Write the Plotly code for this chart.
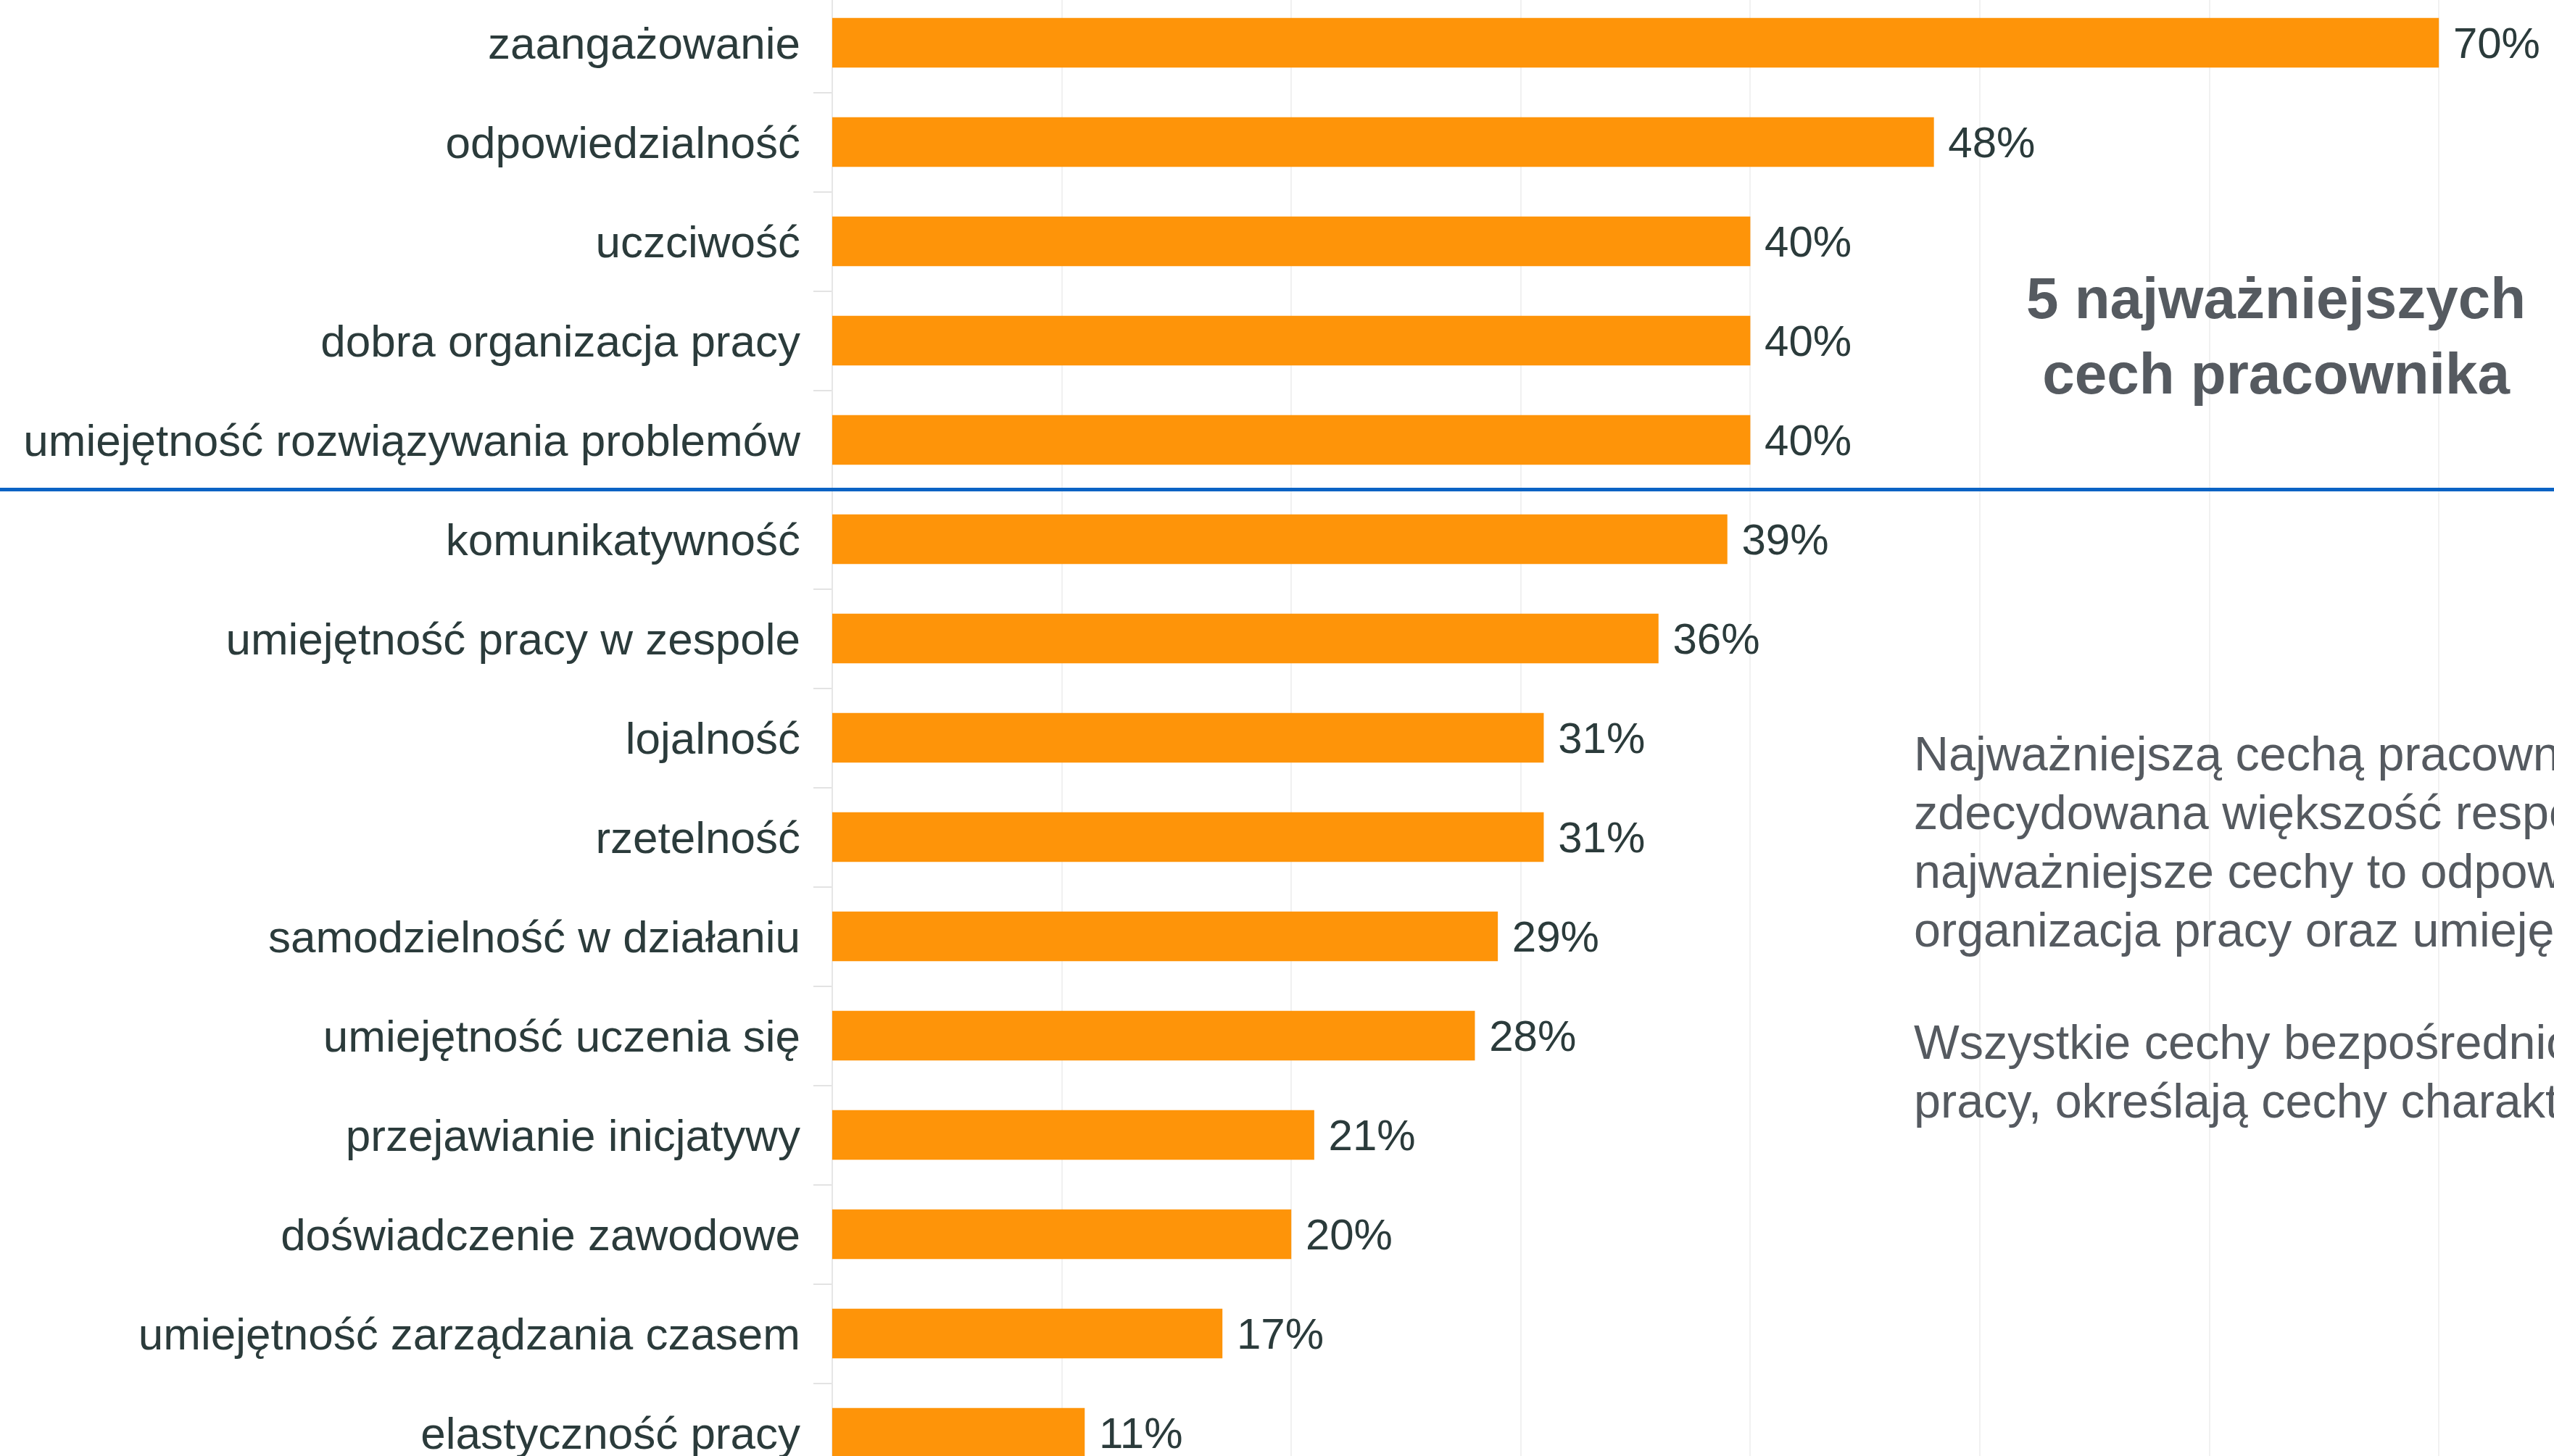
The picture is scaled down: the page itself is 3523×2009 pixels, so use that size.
import plotly.graph_objects as go

categories = [
    "zaangażowanie",
    "odpowiedzialność",
    "uczciwość",
    "dobra organizacja pracy",
    "umiejętność rozwiązywania problemów",
    "komunikatywność",
    "umiejętność pracy w zespole",
    "lojalność",
    "rzetelność",
    "samodzielność w działaniu",
    "umiejętność uczenia się",
    "przejawianie inicjatywy",
    "doświadczenie zawodowe",
    "umiejętność zarządzania czasem",
    "elastyczność pracy",
]
values = [70, 48, 40, 40, 40, 39, 36, 31, 31, 29, 28, 21, 20, 17, 11]
top_n = 5

title_text = "5 najważniejszych<br>cech pracownika"
body_par1 = [
    "Najważniejszą cechą pracownika",
    "zdecydowana większość respondentów",
    "najważniejsze cechy to odpowiedzialność",
    "organizacja pracy oraz umiejętność",
]
body_par2 = [
    "Wszystkie cechy bezpośrednio",
    "pracy, określają cechy charakteru",
]

W, H = 3523, 2009
ML = 1148
plot_w = W - ML
px_per_unit = 31.66
row_px = 137.0
first_row_px = 59.0

BAR = "#FE9409"
LABEL = "#2B3B3B"
GREY_TXT = "#555A60"
FONT = "Liberation Sans, Arial, sans-serif"

fig = go.Figure()
fig.add_trace(go.Bar(
    y=categories,
    x=values,
    orientation="h",
    marker=dict(color=BAR, line=dict(width=0)),
    texttemplate="\u00a0%{x}%",
    textposition="outside",
    textfont=dict(family=FONT, size=60, color=LABEL),
    constraintext="none",
    cliponaxis=False,
    hoverinfo="skip",
))

n = len(categories)
fig.update_layout(
    width=W, height=H,
    margin=dict(l=ML, r=0, t=0, b=0, pad=0),
    paper_bgcolor="white", plot_bgcolor="white",
    showlegend=False,
    bargap=0.5,
    font=dict(family=FONT, color=LABEL),
    xaxis=dict(
        range=[0, plot_w / px_per_unit], dtick=10, showticklabels=False,
        showgrid=True, gridcolor="#F1F1F1", gridwidth=2,
        zeroline=True, zerolinecolor="#E6E6E6", zerolinewidth=2,
        showline=False, fixedrange=True,
    ),
    yaxis=dict(
        type="category",
        range=[(H - first_row_px) / row_px, -first_row_px / row_px],
        tickson="boundaries",
        ticks="outside", ticklen=25, tickwidth=2, tickcolor="#E3E3E3",
        showgrid=False, zeroline=False, showline=False,
        tickfont=dict(family=FONT, size=62, color=LABEL),
        ticklabelstandoff=43,
        automargin=False,
    ),
)

# separator between the top group and the rest
fig.add_shape(
    type="line", xref="paper", yref="y",
    x0=-ML / plot_w, x1=1, y0=top_n - 0.5, y1=top_n - 0.5,
    line=dict(color="#0B63C4", width=5), layer="above",
)

fig.add_annotation(
    xref="paper", yref="paper",
    x=(3139 - ML) / plot_w, y=1 - 464 / H,
    xanchor="center", yanchor="middle",
    text="<b>" + title_text + "</b>", showarrow=False, align="center",
    font=dict(family=FONT, size=80, color=GREY_TXT),
)

line_step = 81.0
para_gap = 155.0
y_px = 1040.0
body_x = (2638 - ML) / plot_w
for i, line in enumerate(body_par1 + body_par2):
    if i == len(body_par1):
        y_px += para_gap - line_step
    fig.add_annotation(
        xref="paper", yref="paper",
        x=body_x, y=1 - y_px / H,
        xanchor="left", yanchor="middle",
        text=line, showarrow=False, align="left",
        font=dict(family=FONT, size=66.5, color=GREY_TXT),
    )
    y_px += line_step

fig.write_html(
    "out.html",
    config={"displayModeBar": False},
    post_script="document.body.style.margin='0';document.body.style.overflow='hidden';",
)
